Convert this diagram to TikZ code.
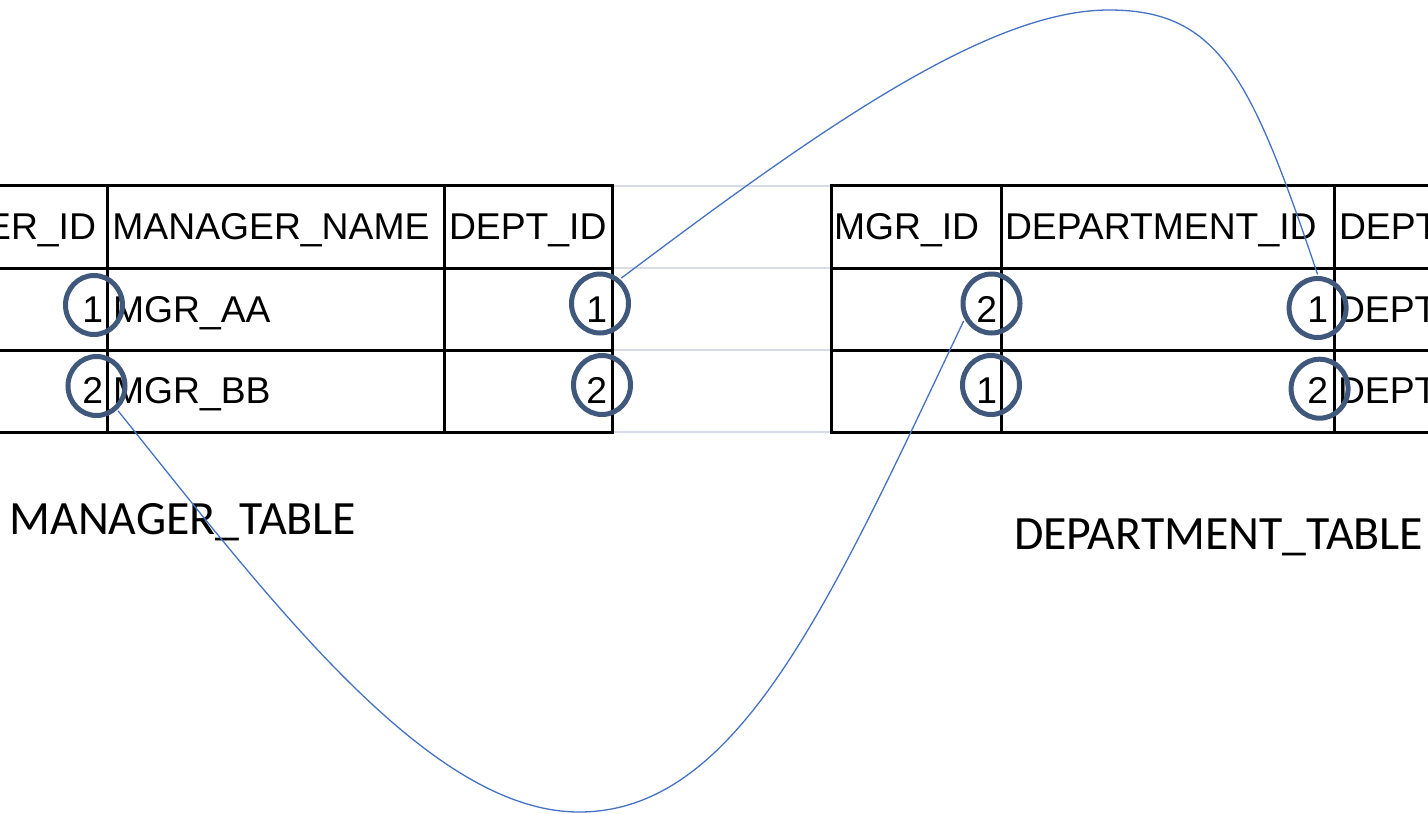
\documentclass[tikz,border=0pt]{standalone}
\usepackage{fontspec}
\setmainfont{Liberation Sans}
\newfontfamily\calibrifont{Carlito}
\usetikzlibrary{shapes.geometric}
\definecolor{ringblue}{RGB}{63,88,124}
\definecolor{linkblue}{RGB}{68,114,196}
\definecolor{gridgray}{RGB}{216,220,232}
\begin{document}
\begin{tikzpicture}[x=1pt,y=-1pt,
  cell/.style={inner sep=0pt, outer sep=0pt, font=\fontsize{37.3}{40}\selectfont},
  ring/.style={ellipse, draw=ringblue, line width=5pt, minimum width=57pt, minimum height=59pt, inner sep=0pt, outer sep=4pt},
  tabline/.style={line width=3pt, black},
  faint/.style={line width=2pt, gridgray},
  link/.style={linkblue, line width=1.3pt},
  caption/.style={inner sep=0pt, outer sep=0pt, font=\calibrifont\fontsize{47.8}{52}\selectfont}]
\useasboundingbox (0,0) rectangle (1428,814);
\clip (0,0) rectangle (1428,814);

% faint spreadsheet grid between the tables
\foreach \yy in {185.5,268,350,432}
  \draw[faint] (612,\yy) -- (831,\yy);

% left table
\foreach \yy in {185.5,268,350,432}
  \draw[tabline] (-5,\yy) -- (614,\yy);
\foreach \xx in {107,444.5,612.5}
  \draw[tabline] (\xx,184) -- (\xx,433.5);
% right table
\foreach \yy in {185.5,268,350,432}
  \draw[tabline] (829.5,\yy) -- (1433,\yy);
\foreach \xx in {831,1001.5,1334}
  \draw[tabline] (\xx,184) -- (\xx,433.5);

% left table texts
\node[cell, anchor=base east] (hMid) at (96,239) {ER\_ID};
\node[cell, anchor=base west] (hMname) at (112.4,239) {MANAGER\_NAME};
\node[cell, anchor=base west] (hMdept) at (449,239) {DEPT\_ID};
\node[cell, anchor=base east] (tA1) at (103,322) {1};
\node[cell, anchor=base west] (tA2) at (113,322) {MGR\_AA};
\node[cell, anchor=base east] (tA3) at (607,322) {1};
\node[cell, anchor=base east] (tB1) at (103,403.5) {2};
\node[cell, anchor=base west] (tB2) at (113,403.5) {MGR\_BB};
\node[cell, anchor=base east] (tB3) at (607,403.5) {2};

% right table texts
\node[cell, anchor=base west] (hDmgr) at (834,239) {MGR\_ID};
\node[cell, anchor=base west] (hDdept) at (1005,239) {DEPARTMENT\_ID};
\node[cell, anchor=base west] (hDname) at (1339,239) {DEPT};
\node[cell, anchor=base east] (uA1) at (997,322) {2};
\node[cell, anchor=base east] (uA2) at (1328,322) {1};
\node[cell, anchor=base west] (uA3) at (1338,322) {DEPT};
\node[cell, anchor=base east] (uB1) at (997,403.5) {1};
\node[cell, anchor=base east] (uB2) at (1328,403.5) {2};
\node[cell, anchor=base west] (uB3) at (1338,403.5) {DEPT};

% captions
\node[caption, anchor=base west] (capM) at (9.5,534) {MANAGER\_TABLE};
\node[caption, anchor=base west] (capD) at (1014,549) {DEPARTMENT\_TABLE};

% rings
\node[ring] (mA1) at (94,305) {};
\node[ring] (mA2) at (96.5,386) {};
\node[ring] (dA1) at (600,303.5) {};
\node[ring] (dA2) at (602,385) {};
\node[ring] (rM2) at (991.5,303.5) {};
\node[ring] (rM1) at (991,385) {};
\node[ring] (rD1) at (1317.6,308) {};
\node[ring] (rD2) at (1319.6,388.7) {};

% links
\draw[link] (dA1.50) .. controls (822,127) and (989,10) .. (1109,10)
  .. controls (1219,10) and (1251,77) .. (rD1.north);
\draw[link] (mA2.-49) .. controls (270,600) and (429,812) .. (579,812)
  .. controls (739,812) and (830,602) .. (rM2.212);
\end{tikzpicture}
\end{document}
